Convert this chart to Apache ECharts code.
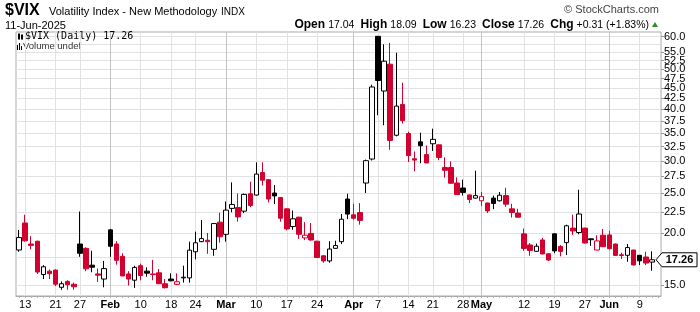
<!DOCTYPE html>
<html><head><meta charset="utf-8">
<script src="https://cdn.jsdelivr.net/npm/echarts@6/dist/echarts.min.js"></script>
<style>html,body{margin:0;padding:0;background:#fff}#c{width:700px;height:312px}</style>
</head><body><div id="c"></div>
<script>
const dates = [
'2025-01-10','2025-01-13','2025-01-14','2025-01-15','2025-01-16','2025-01-17','2025-01-21','2025-01-22','2025-01-23','2025-01-24',
'2025-01-27','2025-01-28','2025-01-29','2025-01-30','2025-01-31','2025-02-03','2025-02-04','2025-02-05','2025-02-06','2025-02-07',
'2025-02-10','2025-02-11','2025-02-12','2025-02-13','2025-02-14','2025-02-18','2025-02-19','2025-02-20','2025-02-21','2025-02-24',
'2025-02-25','2025-02-26','2025-02-27','2025-02-28','2025-03-03','2025-03-04','2025-03-05','2025-03-06','2025-03-07','2025-03-10',
'2025-03-11','2025-03-12','2025-03-13','2025-03-14','2025-03-17','2025-03-18','2025-03-19','2025-03-20','2025-03-21','2025-03-24',
'2025-03-25','2025-03-26','2025-03-27','2025-03-28','2025-03-31','2025-04-01','2025-04-02','2025-04-03','2025-04-04','2025-04-07',
'2025-04-08','2025-04-09','2025-04-10','2025-04-11','2025-04-14','2025-04-15','2025-04-16','2025-04-17','2025-04-21','2025-04-22',
'2025-04-23','2025-04-24','2025-04-25','2025-04-28','2025-04-29','2025-04-30','2025-05-01','2025-05-02','2025-05-05','2025-05-06',
'2025-05-07','2025-05-08','2025-05-09','2025-05-12','2025-05-13','2025-05-14','2025-05-15','2025-05-16','2025-05-19','2025-05-20',
'2025-05-21','2025-05-22','2025-05-23','2025-05-27','2025-05-28','2025-05-29','2025-05-30','2025-06-02','2025-06-03','2025-06-04',
'2025-06-05','2025-06-06','2025-06-09','2025-06-10','2025-06-11'];

const openV = [
18.23,21.2,18.85,19.15,15.9,16.2,16.3,14.8,15.3,15.05,
18.85,18.4,16.75,15.95,15.5,20.4,18.85,17.6,15.95,15.4,
16.7,16.2,15.95,16.05,15.1,15.5,15.05,15.6,15.6,18.05,
19.1,19.25,18.3,21.3,19.9,23.0,23.1,22.65,24.95,24.78,
28.1,27.0,25.06,24.45,22.94,20.78,21.9,19.5,20.0,19.15,
17.65,17.15,18.4,19.1,24.23,22.19,22.47,26.5,30.3,60.13,
44.3,51.46,34.6,41.1,34.94,30.35,33.35,31.06,33.0,32.8,
28.9,28.9,26.5,25.77,24.8,24.36,24.0,23.7,24.36,24.0,
24.7,22.94,22.4,19.95,18.75,18.1,19.28,17.85,19.95,18.6,
19.0,20.6,20.1,20.6,19.4,18.23,19.8,19.83,18.85,17.75,
17.7,18.23,17.7,17.53,17.04];
const highV = [
20.39,22.2,19.7,19.2,16.75,16.35,16.35,15.3,15.4,15.2,
22.6,18.5,18.15,16.45,17.15,20.5,19.15,17.9,16.2,16.7,
16.9,16.55,17.25,16.4,15.5,16.0,16.0,16.7,19.1,20.2,
21.57,20.05,21.2,22.45,23.9,26.6,25.0,25.0,26.7,29.75,
29.75,27.1,26.2,24.5,23.0,22.73,21.95,21.3,21.2,19.2,
17.7,19.15,19.2,22.3,24.96,23.6,23.69,30.2,45.9,60.13,
57.52,57.96,54.87,46.4,35.3,31.6,35.1,32.7,35.9,32.85,
30.6,29.9,27.35,27.0,24.85,28.4,25.2,23.75,24.7,25.2,
25.8,23.6,22.94,20.55,18.95,18.9,19.5,17.9,20.0,18.75,
21.0,22.2,25.53,20.65,19.45,19.8,20.5,20.3,18.9,17.95,
18.85,18.25,17.72,18.05,18.09];
const lowV = [
18.05,19.1,18.3,15.95,15.5,15.5,14.9,14.6,14.6,14.6,
17.55,16.2,16.1,15.25,14.8,17.55,16.8,15.75,14.95,14.75,
15.4,15.7,15.4,15.1,14.7,15.3,14.98,15.2,15.2,17.3,
19.05,17.85,17.65,19.0,19.1,22.5,21.35,22.4,23.16,24.7,
26.15,23.77,23.56,21.35,20.35,20.4,19.4,19.28,19.2,17.45,
16.98,16.98,18.35,18.85,21.66,21.6,21.0,25.06,30.05,38.7,
36.6,31.9,34.4,36.96,29.8,28.3,29.6,29.6,31.7,30.1,
27.3,26.4,24.8,24.7,23.7,24.3,23.33,22.4,22.9,23.9,
23.2,21.85,21.85,18.15,17.65,18.05,17.8,17.15,17.9,17.6,
17.73,19.83,19.9,18.9,18.65,18.2,18.55,18.3,17.65,17.33,
17.07,16.72,16.76,16.76,16.23];
const closeV = [
19.54,19.19,18.71,16.12,16.60,15.97,15.06,15.10,15.02,14.85,
17.90,16.41,16.56,15.84,16.43,18.62,17.21,15.77,15.50,16.54,
15.81,16.02,15.89,15.10,14.77,15.35,15.27,15.66,18.21,18.98,
19.43,19.10,21.13,19.63,22.78,23.51,21.93,24.87,23.37,27.86,
26.92,24.23,24.66,21.77,20.51,21.70,19.90,19.80,19.28,17.48,
17.15,18.33,18.69,21.65,22.28,21.77,21.51,30.02,45.31,46.98,
52.33,33.62,40.72,37.56,30.89,30.12,32.64,29.65,33.82,30.57,
28.45,26.47,24.84,25.15,24.17,24.70,24.60,22.68,23.64,24.76,
23.55,22.48,21.90,18.39,18.18,18.62,17.83,17.24,18.14,18.09,
20.87,20.28,22.29,18.96,19.31,19.18,18.57,18.36,17.69,17.68,
18.48,16.77,17.16,16.95,17.26];

const yTicks = [15,17.5,20,22.5,25,27.5,30,32.5,35,37.5,40,42.5,45,47.5,50,52.5,55,57.5,60];
const yLabelTicks = [15,20,22.5,25,27.5,30,32.5,35,37.5,40,42.5,45,47.5,50,52.5,55,57.5,60];
const xTickDates = ['2025-01-13','2025-01-21','2025-01-27','2025-02-03','2025-02-10','2025-02-18','2025-02-24','2025-03-03','2025-03-10','2025-03-17','2025-03-24','2025-04-01','2025-04-07','2025-04-14','2025-04-21','2025-04-28','2025-05-01','2025-05-12','2025-05-19','2025-05-27','2025-06-02','2025-06-09'];
const xTickTexts = ['13','21','27','Feb','10','18','24','Mar','10','17','24','Apr','7','14','21','28','May','12','19','27','Jun','9'];
const monthTickDates = ['2025-02-03','2025-03-03','2025-04-01','2025-05-01','2025-06-02'];
const lastPrice = 17.26;

const RED = '#d2002e', BLK = '#000000';
const FONT = '"Liberation Sans", Arial, sans-serif';

const candleData = dates.map((d, i) => {
  const o = openV[i], c = closeV[i], l = lowV[i], h = highV[i];
  const prev = i > 0 ? closeV[i - 1] : o;
  const col = c >= prev ? BLK : RED;
  const fill = c > o ? '#ffffff' : col;
  return { value: [Math.log(o), Math.log(c), Math.log(l), Math.log(h)],
    itemStyle: { color: fill, color0: fill, borderColor: col, borderColor0: col, borderWidth: 1 } };
});

const tickMap = {};
xTickDates.forEach((d, i) => { tickMap[d] = xTickTexts[i]; });
const monthSet = new Set(monthTickDates);

const vLines = xTickDates.map(d => ({
  xAxis: d,
  lineStyle: { color: monthSet.has(d) ? '#c4c4c4' : '#e2e2e2', width: 1, type: 'solid' }
}));

const chart = echarts.init(document.getElementById('c'), null, { renderer: 'canvas' });
const option = {
  animation: false,
  backgroundColor: '#ffffff',
  grid: { left: 16, right: 39, top: 32, bottom: 16, show: true, borderColor: '#aaaaaa', borderWidth: 1, containLabel: false },
  xAxis: {
    type: 'category',
    data: dates.concat(['']),
    boundaryGap: true,
    axisLine: { show: true, lineStyle: { color: '#aaaaaa' } },
    axisTick: { show: true, interval: 0, alignWithLabel: true, length: 2, lineStyle: { color: '#b0b0b0' } },
    splitLine: { show: false },
    axisLabel: {
      interval: (idx, val) => tickMap[val] !== undefined,
      formatter: (val) => {
        const t = tickMap[val];
        if (t === undefined) return '';
        return monthSet.has(val) ? '{m|' + t + '}' : t;
      },
      fontFamily: FONT, fontSize: 11, color: '#000', margin: 3,
      rich: { m: { fontFamily: FONT, fontWeight: 'bold', fontSize: 11, color: '#000' } }
    }
  },
  yAxis: {
    type: 'value',
    position: 'right',
    min: Math.log(14.10),
    max: Math.log(61.6),
    axisLine: { show: false },
    axisTick: { show: true, customValues: yTicks.map(v => Math.log(v)), length: 3, lineStyle: { color: '#999' } },
    axisLabel: {
      customValues: yLabelTicks.map(v => Math.log(v)),
      formatter: v => Math.exp(v).toFixed(1),
      showMaxLabel: true, showMinLabel: true, hideOverlap: false,
      fontFamily: FONT, fontSize: 11, color: '#000', margin: 3
    },
    splitLine: { show: true, lineStyle: { color: '#e2e2e2', width: 1 } }
  },
  series: [{
    type: 'candlestick',
    data: candleData,
    barWidth: 5,
    z: 3,
    markLine: {
      silent: true, z: 1, symbol: ['none', 'none'], animation: false,
      label: { show: false },
      emphasis: { disabled: true },
      data: vLines
    }
  }]
};
chart.setOption(option);

const py = chart.convertToPixel({ yAxisIndex: 0 }, Math.log(lastPrice));
chart.setOption({
  graphic: [
    { type: 'text', left: 5, top: 3, style: { text: '$VIX', font: 'bold 16px ' + FONT, fill: '#000' } },
    { type: 'text', left: 49, top: 6, style: { text: 'Volatility Index - New Methodology', font: '11px ' + FONT, fill: '#000' } },
    { type: 'text', left: 221, top: 7, style: { text: 'INDX', font: '10px ' + FONT, fill: '#000' } },
    { type: 'text', left: 5, top: 20, style: { text: '11-Jun-2025', font: '11px ' + FONT, fill: '#000' } },
    { type: 'text', right: 41, top: 4, style: { text: '\u00a9 StockCharts.com', font: '11px ' + FONT, fill: '#444' } },
    { type: 'text', right: 51, top: 19, style: {
        text: '{b|Open} {n|17.04}  {b|High} {n|18.09}  {b|Low} {n|16.23}  {b|Close} {n|17.26}  {b|Chg} {n|+0.31 (+1.83%)}',
        rich: { b: { fontFamily: FONT, fontWeight: 'bold', fontSize: 12, fill: '#000' }, n: { fontFamily: FONT, fontSize: 10.5, fill: '#000' } },
        font: '11px ' + FONT, fill: '#000' } },
    { type: 'polygon', shape: { points: [[652, 27], [658, 27], [655, 22]] }, style: { fill: '#2d8a2d' } },
    { type: 'rect', shape: { x: 18, y: 34, width: 2, height: 5 }, style: { fill: '#000' } },
    { type: 'line', shape: { x1: 19, y1: 33, x2: 19, y2: 40 }, style: { stroke: '#000', lineWidth: 1 } },
    { type: 'rect', shape: { x: 21, y: 35, width: 2, height: 4 }, style: { fill: '#000' } },
    { type: 'line', shape: { x1: 22, y1: 34, x2: 22, y2: 40 }, style: { stroke: '#000', lineWidth: 1 } },
    { type: 'text', left: 25, top: 31, style: { text: '$VIX (Daily) 17.26', font: '10px "DejaVu Sans Mono", monospace', fill: '#000' } },
    { type: 'rect', shape: { x: 17, y: 45, width: 1, height: 5 }, style: { fill: '#000' } },
    { type: 'rect', shape: { x: 19, y: 43, width: 1, height: 7 }, style: { fill: '#000' } },
    { type: 'rect', shape: { x: 21, y: 46, width: 1, height: 4 }, style: { fill: '#000' } },
    { type: 'text', left: 23, top: 41, style: { text: 'Volume undef', font: '9.5px ' + FONT, fill: '#333' } },
    { type: 'polygon', z: 10, shape: { points: [[656, py], [662, py - 7], [697, py - 7], [697, py + 7], [662, py + 7]] },
      style: { fill: '#fff', stroke: '#000', lineWidth: 1 } },
    { type: 'text', z: 11, x: 679.5, y: py, style: { text: lastPrice.toFixed(2), font: 'bold 11px ' + FONT, fill: '#000', align: 'center', verticalAlign: 'middle' } }
  ]
});
</script>
</body></html>
